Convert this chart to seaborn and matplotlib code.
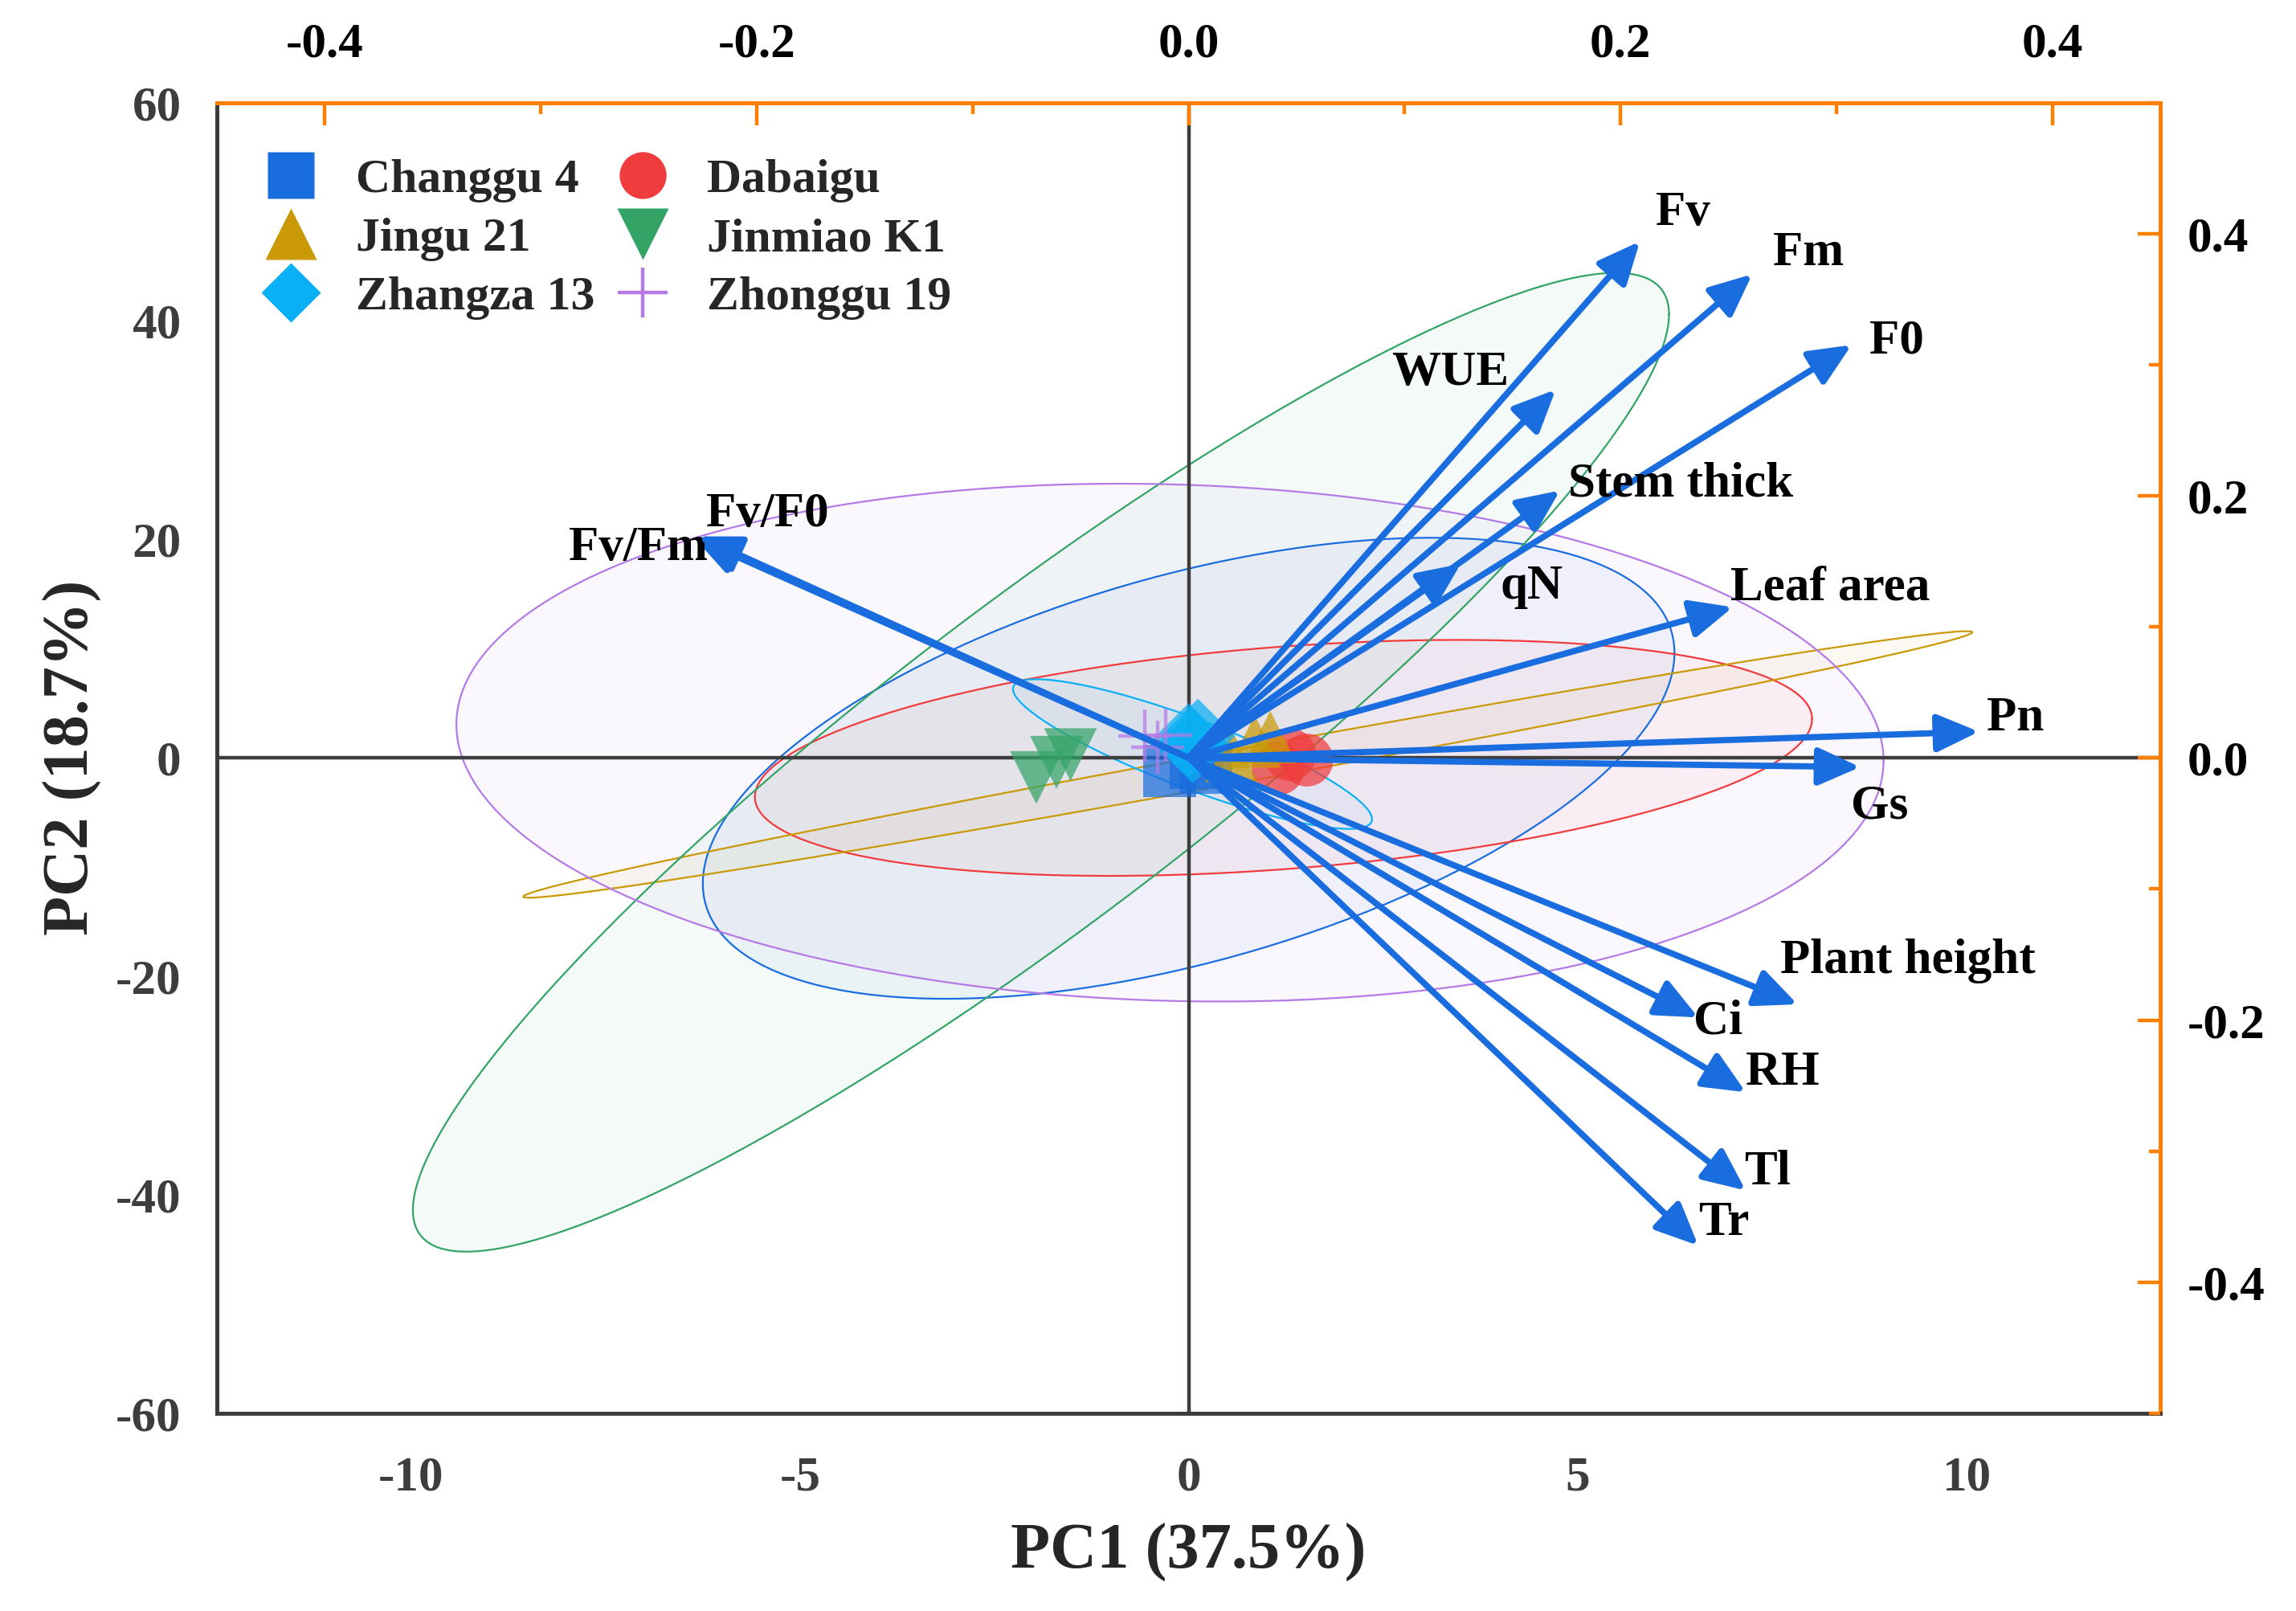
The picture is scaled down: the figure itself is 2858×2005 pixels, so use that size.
import numpy as np
import pandas as pd
import matplotlib
matplotlib.use("Agg")
import matplotlib.pyplot as plt
import seaborn as sns
from matplotlib.lines import Line2D
from matplotlib.ticker import MultipleLocator

# ---- sample scores (PC1, PC2), three replicates per variety ----
varieties = ["Changgu 4", "Dabaigu", "Jingu 21", "Jinmiao K1", "Zhangza 13", "Zhonggu 19"]
var_colors = ["#1a6ddf", "#f03c3c", "#c99a06", "#33a466", "#0ab0f5", "#b57ae6"]
var_markers = ["s", "o", "^", "v", "D", "+"]

pc1_scores = {
    "Changgu 4": [-0.24, 0.10, 0.22],
    "Dabaigu": [1.15, 1.30, 1.52],
    "Jingu 21": [0.55, 0.85, 1.05],
    "Jinmiao K1": [-1.96, -1.52, -1.70],
    "Zhangza 13": [0.00, 0.12, 0.05],
    "Zhonggu 19": [-0.56, -0.30, -0.40],
}
pc2_scores = {
    "Changgu 4": [-1.2, -0.4, -0.9],
    "Dabaigu": [-1.0, 0.3, -0.2],
    "Jingu 21": [0.2, 1.5, 1.9],
    "Jinmiao K1": [-1.8, 0.3, -0.4],
    "Zhangza 13": [1.6, 2.0, 1.1],
    "Zhonggu 19": [2.0, 2.1, 1.0],
}

# ---- confidence ellipses: centre, half extents and correlation ----
ell_cx = [0.00, 1.22, 0.76, -1.90, 0.05, -0.24]
ell_cy = [-0.95, 0.00, -0.60, -0.40, 0.35, 1.40]
ell_rx = [6.25, 6.80, 9.32, 8.08, 2.31, 9.18]
ell_ry = [21.1, 10.8, 12.2, 44.8, 6.85, 23.7]
ell_rho = [0.50, 0.33, 0.992, 0.915, -0.87, -0.07]

# ---- variable loadings ----
variables = ["Fv", "Fm", "F0", "WUE", "Stem thick", "qN", "Leaf area", "Pn", "Gs",
             "Plant height", "Ci", "RH", "Tl", "Tr", "Fv/Fm", "Fv/F0"]
load_pc1 = [0.209, 0.261, 0.307, 0.170, 0.172, 0.126, 0.252, 0.366, 0.311,
            0.282, 0.236, 0.258, 0.258, 0.236, -0.229, -0.227]
load_pc2 = [0.394, 0.369, 0.315, 0.281, 0.204, 0.148, 0.115, 0.020, -0.007,
            -0.188, -0.198, -0.255, -0.330, -0.372, 0.168, 0.169]
label_x = [0.229, 0.287, 0.328, 0.121, 0.228, 0.159, 0.297, 0.383, 0.320,
           0.333, 0.245, 0.275, 0.268, 0.248, -0.255, -0.195]
label_y = [0.416, 0.385, 0.318, 0.294, 0.209, 0.131, 0.130, 0.030, -0.037,
           -0.155, -0.201, -0.240, -0.316, -0.355, 0.160, 0.186]

sns.set_style("white")
plt.rcParams["font.family"] = ["Liberation Serif", "DejaVu Serif"]
plt.rcParams["font.weight"] = "bold"
plt.rcParams["axes.unicode_minus"] = False

GRAY = "#3d3d3d"
ORANGE = "#ff8000"
ARROW = "#1a6ddf"
FS = 22

fig = plt.figure(figsize=(14.29, 10.025), dpi=200)
rect = [0.0945, 0.1227, 0.8464, 0.8137]
ax = fig.add_axes(rect)

# ellipses
t = np.linspace(0, 2 * np.pi, 300)
for i, v in enumerate(varieties):
    ex = ell_cx[i] + ell_rx[i] * np.cos(t)
    ey = ell_cy[i] + ell_ry[i] * (ell_rho[i] * np.cos(t) + np.sqrt(1 - ell_rho[i] ** 2) * np.sin(t))
    ax.fill(ex, ey, color=var_colors[i], alpha=0.05, lw=0, zorder=1)
    ax.plot(ex, ey, color=var_colors[i], lw=0.8, zorder=2)

ax.axhline(0, color=GRAY, lw=1.6, zorder=3)
ax.axvline(0, color=GRAY, lw=1.6, zorder=3)

rows = []
for v in varieties:
    for a, b in zip(pc1_scores[v], pc2_scores[v]):
        rows.append({"PC1": a, "PC2": b, "Variety": v})
df = pd.DataFrame(rows)
pal = dict(zip(varieties, var_colors))
mk = dict(zip(varieties, var_markers))

filled = df[df["Variety"] != "Zhonggu 19"]
sns.scatterplot(data=filled, x="PC1", y="PC2", hue="Variety", style="Variety",
                palette={k: pal[k] for k in varieties if k != "Zhonggu 19"},
                markers={k: mk[k] for k in varieties if k != "Zhonggu 19"},
                s=560, alpha=0.72, edgecolor="none", legend=False, ax=ax, zorder=4)
plus = df[df["Variety"] == "Zhonggu 19"]
sns.scatterplot(data=plus, x="PC1", y="PC2", color=pal["Zhonggu 19"], marker="+",
                s=560, linewidth=1.6, alpha=0.72, legend=False, ax=ax, zorder=4)

ax.set_xlim(-12.5, 12.5)
ax.set_ylim(-60, 60)
ax.xaxis.set_major_locator(MultipleLocator(5))
ax.xaxis.set_minor_locator(MultipleLocator(2.5))
ax.yaxis.set_major_locator(MultipleLocator(20))
ax.yaxis.set_minor_locator(MultipleLocator(10))
ax.tick_params(which="both", direction="out", color=GRAY, width=1.6,
               labelcolor=GRAY, labelsize=FS, top=False, right=False)
ax.tick_params(which="major", length=10)
ax.tick_params(which="minor", length=5)
ax.tick_params(axis="x", pad=9)
ax.tick_params(axis="y", pad=6)
ax.set_xlabel("PC1 (37.5%)", fontsize=29, fontweight="bold", labelpad=10)
ax.set_ylabel("PC2 (18.7%)", fontsize=29, fontweight="bold", labelpad=6)
for side in ["left", "bottom"]:
    ax.spines[side].set_color(GRAY)
    ax.spines[side].set_linewidth(1.8)
for side in ["top", "right"]:
    ax.spines[side].set_color(ORANGE)
    ax.spines[side].set_linewidth(1.8)
for lab in ax.get_xticklabels() + ax.get_yticklabels():
    lab.set_fontweight("bold")

# loading axes (top / right)
ax2 = fig.add_axes(rect, frameon=False)
ax2.set_xlim(-0.45, 0.45)
ax2.set_ylim(-0.5, 0.5)
ax2.xaxis.tick_top()
ax2.yaxis.tick_right()
ax2.xaxis.set_major_locator(MultipleLocator(0.2))
ax2.xaxis.set_minor_locator(MultipleLocator(0.1))
ax2.yaxis.set_major_locator(MultipleLocator(0.2))
ax2.yaxis.set_minor_locator(MultipleLocator(0.1))
ax2.xaxis.set_major_formatter(lambda v, p: f"{v:.1f}".replace("-0.0", "0.0"))
ax2.yaxis.set_major_formatter(lambda v, p: f"{v:.1f}".replace("-0.0", "0.0"))
ax2.tick_params(which="both", direction="in", color=ORANGE, width=1.6,
                labelcolor="black", labelsize=FS, bottom=False, left=False)
ax2.tick_params(which="major", length=10)
ax2.tick_params(which="minor", length=5)
ax2.tick_params(axis="x", pad=16)
ax2.tick_params(axis="y", pad=12)
for lab in ax2.get_xticklabels() + ax2.get_yticklabels():
    lab.set_fontweight("bold")

for i, name in enumerate(variables):
    ax2.annotate("", xy=(load_pc1[i], load_pc2[i]), xytext=(0, 0),
                 arrowprops=dict(arrowstyle="-|>,head_length=0.8,head_width=0.36",
                                 color=ARROW, lw=2.8, mutation_scale=20,
                                 shrinkA=0, shrinkB=0))
    ax2.text(label_x[i], label_y[i], name, fontsize=FS, fontweight="bold",
             ha="center", va="center", color="black")

# legend
handles = []
for v, c, m in zip(varieties, var_colors, var_markers):
    if m == "+":
        handles.append(Line2D([], [], ls="none", marker=m, color=c, ms=22, mew=1.6))
    else:
        ms = 23 if m in ["^", "v"] else (19 if m == "D" else 21)
        handles.append(Line2D([], [], ls="none", marker=m, color=c, mec="none", ms=ms))
order = [0, 2, 4, 1, 3, 5]
leg = ax.legend([handles[k] for k in order], [varieties[k] for k in order],
                loc="upper left", bbox_to_anchor=(-0.004, 0.99), ncol=2, frameon=False,
                prop={"size": 21.5, "weight": "bold"}, handlelength=1.6,
                handletextpad=0.55, columnspacing=0.2, labelspacing=0.3)

fig.savefig("out.png", dpi=200)
